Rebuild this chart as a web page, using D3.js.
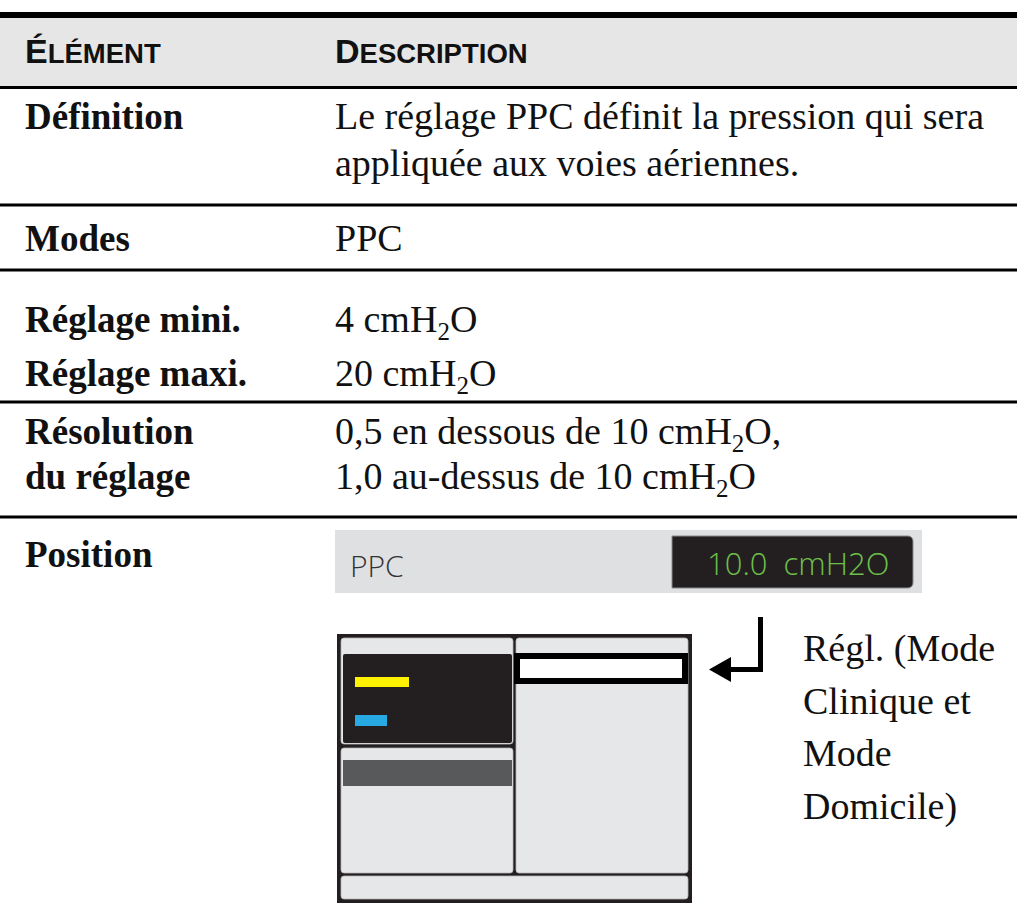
<!DOCTYPE html>
<html>
<head>
<meta charset="utf-8">
<script src="https://cdn.jsdelivr.net/npm/d3@7"></script>
<style>
  html, body { margin: 0; padding: 0; background: #fff; }
  svg { display: block; }
</style>
</head>
<body>
<script>
// ---------- data ----------
const headerLabels = ["ÉLÉMENT", "DESCRIPTION"];
const rowLabels = [
  ["Définition"],
  ["Modes"],
  ["Réglage mini."],
  ["Réglage maxi."],
  ["Résolution", "du réglage"],
  ["Position"]
];
// "_2" marks a subscript 2
const rowDescriptions = [
  ["Le réglage PPC définit la pression qui sera", "appliquée aux voies aériennes."],
  ["PPC"],
  ["4 cmH_2O"],
  ["20 cmH_2O"],
  ["0,5 en dessous de 10 cmH_2O,", "1,0 au-dessus de 10 cmH_2O"],
  []
];
const rowSeparatorAfter = [true, true, false, true, true, false];
const settingName = "PPC";
const settingValue = "10.0\u00a0 cmH2O";
const locationNote = ["Régl. (Mode", "Clinique et", "Mode", "Domicile)"];

// ---------- layout (positions only) ----------
const W = 1017, H = 909;
const rowHeights = [116, 65, 66, 66, 115, 392];
const rowFirstBase = [40, 46, 62, 50, 42, 50];
const rowLineH = [47, 45, 45, 45, 45, 45];

const svg = d3.select("body").append("svg").attr("width", W).attr("height", H);

const serif = "'Liberation Serif', 'DejaVu Serif', serif";
const narrow = "'Liberation Sans Narrow', 'Liberation Sans', Arial, sans-serif";
const sans = "'Open Sans', 'Liberation Sans', sans-serif";

const colX = d3.scalePoint().domain([0, 1]).range([25, 335]);

// top thick rule + header band
svg.append("rect").attr("x", 0).attr("y", 12).attr("width", W).attr("height", 6).attr("fill", "#000");
svg.append("rect").attr("x", 0).attr("y", 18).attr("width", W).attr("height", 68).attr("fill", "#e6e6e6");
svg.append("rect").attr("x", 0).attr("y", 86).attr("width", W).attr("height", 3).attr("fill", "#000");

// header small caps
headerLabels.forEach((h, i) => {
  const t = svg.append("text").attr("x", colX(i)).attr("y", 63)
    .attr("font-family", narrow).attr("font-weight", "bold").attr("fill", "#111");
  t.append("tspan").attr("font-size", 34).text(h[0]);
  t.append("tspan").attr("font-size", 27.5).text(h.slice(1));
});

// rows
const rowY = d3.scaleOrdinal().domain(d3.range(rowHeights.length))
  .range(d3.range(rowHeights.length).map(i => 89 + d3.sum(rowHeights.slice(0, i))));

rowLabels.forEach((lab, i) => {
  const y0 = rowY(i);
  lab.forEach((s, k) => {
    svg.append("text").attr("x", colX(0)).attr("y", y0 + rowFirstBase[i] + k * rowLineH[i])
      .attr("font-family", serif).attr("font-weight", "bold").attr("font-size", 37)
      .attr("fill", "#111").text(s);
  });
  rowDescriptions[i].forEach((s, k) => {
    const t = svg.append("text").attr("x", colX(1)).attr("y", y0 + rowFirstBase[i] + k * rowLineH[i])
      .attr("font-family", serif).attr("font-size", 38).attr("fill", "#111");
    s.split("_2").forEach((p, j) => {
      if (j > 0) {
        t.append("tspan").attr("font-size", 25).attr("dy", 8).text("2");
        t.append("tspan").attr("dy", -8).text(p);
      } else {
        t.append("tspan").text(p);
      }
    });
  });
  if (rowSeparatorAfter[i]) {
    svg.append("rect").attr("x", 0).attr("y", y0 + rowHeights[i] - 1.5)
      .attr("width", W).attr("height", 3).attr("fill", "#000");
  }
});

// ---------- Position row: setting bar ----------
const posTop = rowY(5);
const bar = svg.append("g").attr("transform", `translate(335, ${posTop + 13})`);
bar.append("rect").attr("x", 0).attr("y", 0).attr("width", 587).attr("height", 63).attr("fill", "#dfe0e2");
bar.append("path")
  .attr("d", "M337,6 H573 a5,5 0 0 1 5,5 V53 a5,5 0 0 1 -5,5 H337 Z")
  .attr("fill", "#231f20").attr("stroke", "#8a8a8a").attr("stroke-width", 1);
bar.append("text").attr("x", 15).attr("y", 47).attr("font-family", sans).attr("font-weight", 300)
  .attr("font-size", 30).attr("fill", "#333").text(settingName);
bar.append("text").attr("x", 372).attr("y", 45).attr("font-family", sans).attr("font-weight", 300)
  .attr("font-size", 31).attr("fill", "#6cc04a").text(settingValue);

// ---------- device screen sketch ----------
const dev = svg.append("g").attr("transform", `translate(337, ${posTop + 117})`);
const panelFill = "#e6e7e8", panelStroke = "#b5b6b8";
dev.append("rect").attr("x", 0).attr("y", 0).attr("width", 355).attr("height", 269).attr("fill", "#231f20");
// top-left panel
dev.append("rect").attr("x", 4).attr("y", 4).attr("width", 172).attr("height", 106).attr("rx", 3)
  .attr("fill", panelFill).attr("stroke", panelStroke).attr("stroke-width", 0.8);
dev.append("rect").attr("x", 6).attr("y", 20).attr("width", 169).attr("height", 89).attr("rx", 2).attr("fill", "#231f20");
dev.append("rect").attr("x", 18).attr("y", 43).attr("width", 54).attr("height", 10).attr("fill", "#fff200");
dev.append("rect").attr("x", 18).attr("y", 81).attr("width", 32).attr("height", 11).attr("fill", "#27aae1");
// bottom-left panel
dev.append("rect").attr("x", 4).attr("y", 114).attr("width", 172).attr("height", 125).attr("rx", 3)
  .attr("fill", panelFill).attr("stroke", panelStroke).attr("stroke-width", 0.8);
dev.append("rect").attr("x", 6).attr("y", 126).attr("width", 169).attr("height", 26).attr("fill", "#58595b");
// right panel
dev.append("rect").attr("x", 179).attr("y", 4).attr("width", 172).attr("height", 235).attr("rx", 3)
  .attr("fill", panelFill).attr("stroke", panelStroke).attr("stroke-width", 0.8);
dev.append("rect").attr("x", 177).attr("y", 19).attr("width", 174).attr("height", 31).attr("fill", "#000");
dev.append("rect").attr("x", 183).attr("y", 25).attr("width", 162).attr("height", 19).attr("fill", "#fff");
// bottom bar
dev.append("rect").attr("x", 4).attr("y", 242).attr("width", 347).attr("height", 23).attr("rx", 3)
  .attr("fill", panelFill).attr("stroke", panelStroke).attr("stroke-width", 0.8);

// arrow
const arr = svg.append("g").attr("transform", `translate(0, ${posTop})`);
arr.append("rect").attr("x", 758).attr("y", 100).attr("width", 5).attr("height", 55).attr("fill", "#000");
arr.append("rect").attr("x", 726).attr("y", 150).attr("width", 37).attr("height", 5).attr("fill", "#000");
arr.append("path").attr("d", "M709,152.5 L731,140 L731,165 Z").attr("fill", "#000");

// location note
locationNote.forEach((s, k) => {
  svg.append("text").attr("x", 803).attr("y", posTop + 144 + k * 52.5)
    .attr("font-family", serif).attr("font-size", 38).attr("fill", "#111").text(s);
});
</script>
</body>
</html>
